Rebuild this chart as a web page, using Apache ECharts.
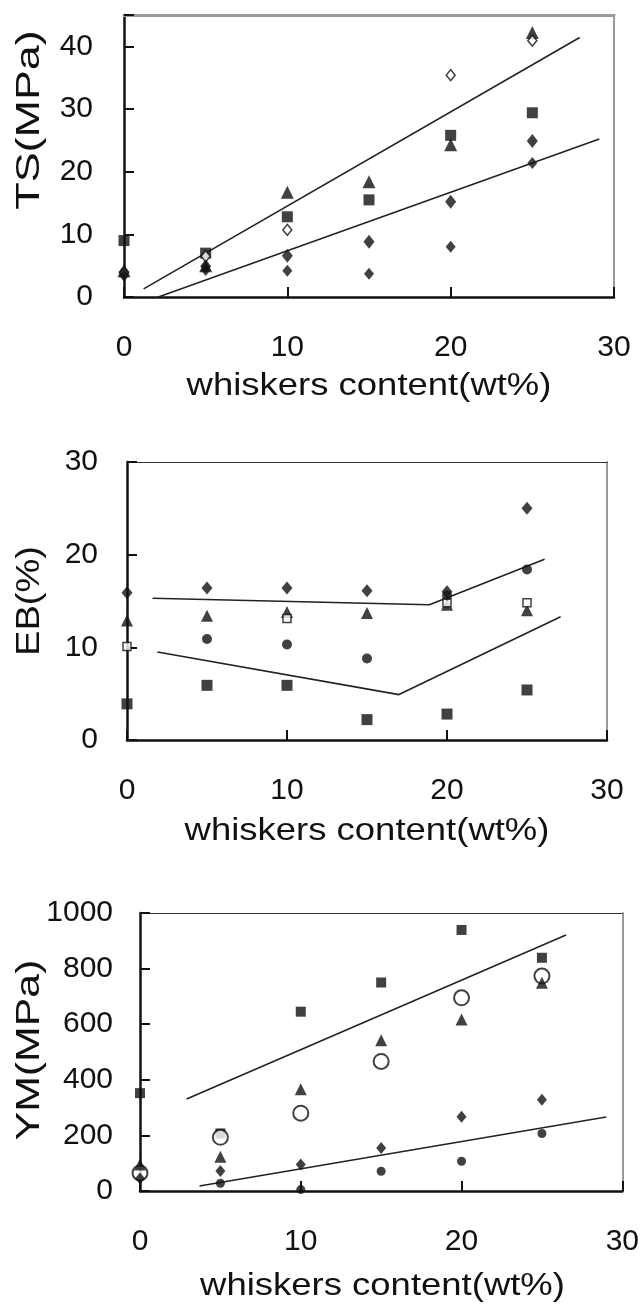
<!DOCTYPE html>
<html>
<head>
<meta charset="utf-8">
<script src="https://cdn.jsdelivr.net/npm/echarts@6/dist/echarts.min.js"></script>
<style>
  html, body { margin: 0; padding: 0; background: #fff; }
  #chart { width: 642px; height: 1307px; }
</style>
</head>
<body>
<div id="chart"></div>
<script>
// whiskers content (wt%) at which each composite was tested
const whiskers = [0, 5, 10, 15, 20, 25];
const xTicks = [0, 10, 20, 30];

// (a) tensile strength, MPa
const tsSquare      = [9.0, 7.0, 12.8, 15.5, 25.8, 29.4];
const tsTriangle    = [4.2, 5.0, 16.7, 18.4, 24.3, 42.2];
const tsOpenDiamond = [3.9, 6.5, 10.7, null, 35.4, 40.9];
const tsDiamondHi   = [4.0, 4.9, 6.6, 8.8, 15.2, 24.9];
const tsDiamondLo   = [3.4, 4.3, 4.2, 3.7, 8.0, 21.4];
const tsTrendUpper  = [[1.2, 1.3], [27.9, 41.4]];
const tsTrendLower  = [[2.1, 0], [29.1, 25.2]];
const tsTicks = [0, 10, 20, 30, 40];

// (b) elongation at break, %
const ebSquare   = [3.9, 5.9, 5.9, 2.2, 2.8, 5.4];
const ebTriangle = [12.9, 13.4, 13.8, 13.7, 14.6, 14.0];
const ebOpen     = [10.1, null, 13.1, null, 14.8, 14.8];
const ebDiamond  = [15.9, 16.4, 16.4, 16.1, 16.0, 25.0];
const ebCircle   = [null, 10.9, 10.3, 8.8, 15.6, 18.4];
const ebTrendUpper = [[1.6, 15.3], [18.9, 14.6], [26.1, 19.5]];
const ebTrendLower = [[1.9, 9.5], [17.0, 4.9], [27.1, 13.3]];
const ebTicks = [0, 10, 20, 30];

// (c) Young's modulus, MPa
const ymSquare     = [352, 207, 645, 750, 939, 839];
const ymOpenCircle = [65, 193, 280, 466, 695, 773];
const ymTriangle   = [95, 123, 366, 542, 617, 749];
const ymDiamond    = [45, 72, 95, 155, 267, 328];
const ymCircle     = [null, 28, 5, 71, 107, 207];
const ymTrendUpper = [[2.9, 331], [26.5, 921]];
const ymTrendLower = [[3.7, 18], [29.0, 266]];
const ymTicks = [0, 200, 400, 600, 800, 1000];

// panel letters and where they sit in data space
const panelTags = [
  { text: 'a', at: [16.6, 39] },
  { text: 'b', at: [14.5, 25.4] },
  { text: 'c', at: [15, 955] }
];

const xTitle = 'whiskers content(wt%)';
const yTitles = ['TS(MPa)', 'EB(%)', 'YM(MPa)'];

const FONT = '"Liberation Sans", Arial, Helvetica, sans-serif';
const INK = '#111';

const pairs = vals => whiskers
  .map((x, i) => [x, vals[i]])
  .filter(p => p[1] !== null && p[1] !== undefined);

const grids = [
  { left: 124, top: 15,  width: 490, height: 282 },
  { left: 127, top: 462, width: 480, height: 278 },
  { left: 140, top: 913, width: 485, height: 278 }
];

const panels = [
  { yMax: 45,   yStep: 10,  yTicks: tsTicks, labelGap: 31, topColor: '#9a9a9a', topWidth: 3,
    yTitleAt: [30, 120],  yStretch: 1.32, xTitleY: 386 },
  { yMax: 30,   yStep: 10,  yTicks: ebTicks, labelGap: 29, topColor: '#333',    topWidth: 1,
    yTitleAt: [30, 601],  yStretch: 1.12, xTitleY: 831 },
  { yMax: 1000, yStep: 200, yTicks: ymTicks, labelGap: 27, topColor: '#333',    topWidth: 1,
    yTitleAt: [30, 1050], yStretch: 1.26, xTitleY: 1286 }
];

const xAxes = [];
const yAxes = [];
const titles = [];
panels.forEach((p, g) => {
  const gr = grids[g];
  xAxes.push({
    gridIndex: g, type: 'value', position: 'bottom',
    min: xTicks[0], max: xTicks[xTicks.length - 1], interval: 10,
    axisLine: { show: true, onZero: false, lineStyle: { color: INK, width: 2.5 } },
    axisTick: { show: true, inside: true, length: 10, lineStyle: { color: INK, width: 2 } },
    axisLabel: { fontFamily: FONT, fontSize: 30, color: INK, margin: 36 },
    splitLine: { show: false }
  });
  xAxes.push({
    gridIndex: g, type: 'value', position: 'top',
    min: xTicks[0], max: xTicks[xTicks.length - 1],
    axisLine: { show: true, onZero: false, lineStyle: { color: p.topColor, width: p.topWidth } },
    axisTick: { show: false }, axisLabel: { show: false }, splitLine: { show: false }
  });
  yAxes.push({
    gridIndex: g, type: 'value', position: 'left',
    min: 0, max: p.yMax, interval: p.yStep,
    axisLine: { show: true, onZero: false, lineStyle: { color: INK, width: 2.5 } },
    axisTick: { show: true, inside: true, length: 10, lineStyle: { color: INK, width: 2 } },
    axisLabel: {
      fontFamily: FONT, fontSize: 30, color: INK, margin: p.labelGap,
      formatter: v => (p.yTicks.indexOf(v) >= 0 ? String(v) : '')
    },
    splitLine: { show: false }
  });
  yAxes.push({
    gridIndex: g, type: 'value', position: 'right',
    min: 0, max: p.yMax,
    axisLine: { show: true, onZero: false, lineStyle: { color: '#9a9a9a', width: 2 } },
    axisTick: { show: false }, axisLabel: { show: false }, splitLine: { show: false }
  });

  // axis titles: the y title runs bottom-to-top, both are set a little wide
  titles.push({
    type: 'text', x: p.yTitleAt[0], y: p.yTitleAt[1],
    rotation: Math.PI / 2, scaleX: p.yStretch, silent: true,
    style: { text: yTitles[g], fontFamily: FONT, fontSize: 34, fill: INK,
             align: 'center', verticalAlign: 'middle' }
  });
  titles.push({
    type: 'text', x: gr.left + gr.width / 2, y: p.xTitleY,
    scaleX: 1.14, silent: true,
    style: { text: xTitle, fontFamily: FONT, fontSize: 32, fill: INK,
             align: 'center', verticalAlign: 'middle' }
  });
});

const filled = { color: INK };
const hollow = { color: '#fff', borderColor: INK, borderWidth: 1.5 };

function scatter(g, vals, symbol, size, style) {
  return {
    type: 'scatter', xAxisIndex: g * 2, yAxisIndex: g * 2,
    data: pairs(vals), symbol: symbol, symbolSize: size,
    itemStyle: style, z: 3, silent: true
  };
}
function trend(g, pts) {
  return {
    type: 'line', xAxisIndex: g * 2, yAxisIndex: g * 2,
    data: pts, symbol: 'none', z: 2, silent: true,
    lineStyle: { color: '#222', width: 1.6 }
  };
}
function tag(g, t) {
  return {
    type: 'scatter', xAxisIndex: g * 2, yAxisIndex: g * 2,
    data: [t.at], symbolSize: 1, itemStyle: { opacity: 0 }, z: 4, silent: true,
    label: {
      show: true, position: 'inside', formatter: t.text,
      fontFamily: FONT, fontSize: 32, color: INK
    }
  };
}

const series = [
  // (a)
  trend(0, tsTrendUpper),
  trend(0, tsTrendLower),
  scatter(0, tsSquare, 'rect', 11, filled),
  scatter(0, tsTriangle, 'triangle', 13, filled),
  scatter(0, tsOpenDiamond, 'diamond', [9, 11], hollow),
  scatter(0, tsDiamondHi, 'diamond', [11, 14], filled),
  scatter(0, tsDiamondLo, 'diamond', [10, 12], filled),
  tag(0, panelTags[0]),
  // (b)
  trend(1, ebTrendUpper),
  trend(1, ebTrendLower),
  scatter(1, ebSquare, 'rect', 11, filled),
  scatter(1, ebTriangle, 'triangle', 12, filled),
  scatter(1, ebOpen, 'rect', 8, hollow),
  scatter(1, ebDiamond, 'diamond', [11, 13], filled),
  scatter(1, ebCircle, 'circle', 10, filled),
  tag(1, panelTags[1]),
  // (c)
  trend(2, ymTrendUpper),
  trend(2, ymTrendLower),
  scatter(2, ymSquare, 'rect', 10, filled),
  scatter(2, ymOpenCircle, 'circle', 15, { color: '#fff', borderColor: INK, borderWidth: 2 }),
  scatter(2, ymTriangle, 'triangle', 12, filled),
  scatter(2, ymDiamond, 'diamond', [10, 12], filled),
  scatter(2, ymCircle, 'circle', 9, filled),
  tag(2, panelTags[2])
];

const chart = echarts.init(document.getElementById('chart'), null, { renderer: 'canvas' });
chart.setOption({
  animation: false,
  backgroundColor: '#fff',
  grid: grids,
  xAxis: xAxes,
  yAxis: yAxes,
  graphic: titles,
  series: series
});
</script>
</body>
</html>
